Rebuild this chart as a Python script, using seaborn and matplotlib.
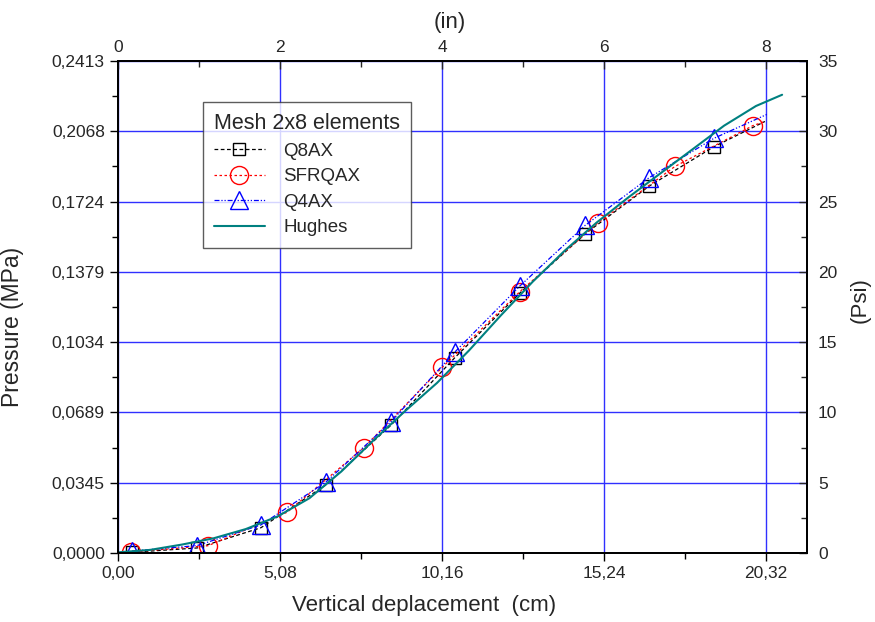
import numpy as np
import pandas as pd
import seaborn as sns
import matplotlib
matplotlib.use('Agg')
import matplotlib.pyplot as plt
from matplotlib.ticker import MultipleLocator

# values, x in cm, pressure in psi
q8_x = [0.44, 2.48, 4.48, 6.52, 8.56, 10.56, 12.60, 14.64, 16.65, 18.68, 20.28]
q8_y = [0.05, 0.36, 1.8, 4.85, 9.1, 13.9, 18.5, 22.7, 26.1, 28.9, 30.7]

sfr_x = [0.41, 2.82, 5.30, 7.71, 10.16, 12.60, 15.05, 17.46, 19.90, 20.28]
sfr_y = [0.07, 0.52, 2.9, 7.5, 13.2, 18.6, 23.5, 27.5, 30.4, 30.7]

q4_x = [0.44, 2.48, 4.48, 6.52, 8.56, 10.56, 12.60, 14.64, 16.65, 18.68, 20.34]
q4_y = [0.14, 0.53, 2.0, 5.05, 9.35, 14.3, 19.0, 23.3, 26.7, 29.5, 31.2]

hughes_x = [0, 1, 2, 3, 4, 5, 6, 7, 8, 9, 10, 11, 12, 13, 14, 15, 16, 17,
            18, 19, 20, 20.82]
hughes_y = [0.05, 0.22, 0.6, 1.05, 1.7, 2.6, 3.9, 5.8, 8.0, 10.1, 12.1, 14.4,
            16.9, 19.3, 21.5, 23.5, 25.3, 27.0, 28.7, 30.4, 31.8, 32.6]

cm_ticks = [0, 5.08, 10.16, 15.24, 20.32]
cm_labels = ['0,00', '5,08', '10,16', '15,24', '20,32']
psi_ticks = [0, 5, 10, 15, 20, 25, 30, 35]
mpa_labels = ['0,0000', '0,0345', '0,0689', '0,1034', '0,1379', '0,1724', '0,2068', '0,2413']
in_ticks = [0, 2, 4, 6, 8]

sns.set_style('ticks')
plt.rcParams['font.family'] = ['Liberation Sans', 'DejaVu Sans']

fig = plt.figure(figsize=(8.75, 6.22), dpi=100)
ax = fig.add_axes([0.1349, 0.1109, 0.7874, 0.7910])

ax.grid(True, color='#3030ff', linewidth=1.0)
ax.set_axisbelow(True)

sns.lineplot(x=q8_x, y=q8_y, ax=ax, sort=False, estimator=None, color='black',
             linestyle=(0, (3, 2)), linewidth=0.9, marker='s', markersize=9,
             markerfacecolor='none', markeredgecolor='black', markeredgewidth=1.0,
             markevery=slice(0, 10), label='Q8AX')
sns.lineplot(x=sfr_x, y=sfr_y, ax=ax, sort=False, estimator=None, color='red',
             linestyle=(0, (2, 2)), linewidth=0.9, marker='o', markersize=13,
             markerfacecolor='none', markeredgecolor='red', markeredgewidth=1.0,
             markevery=slice(0, 9), label='SFRQAX')
sns.lineplot(x=q4_x, y=q4_y, ax=ax, sort=False, estimator=None, color='blue',
             linestyle=(0, (4, 1.5, 1, 1.5, 1, 1.5)), linewidth=0.9, marker='^',
             markersize=13, markerfacecolor='none', markeredgecolor='blue',
             markeredgewidth=1.0, markevery=slice(0, 10), label='Q4AX')
sns.lineplot(x=hughes_x, y=hughes_y, ax=ax, sort=False, estimator=None,
             color='#008080', linewidth=1.5, label='Hughes')

ax.set_xlim(0, 21.6)
ax.set_ylim(0, 35)
ax.set_xticks(cm_ticks)
ax.set_xticklabels(cm_labels)
ax.set_yticks(psi_ticks)
ax.set_yticklabels(mpa_labels)
ax.xaxis.set_minor_locator(MultipleLocator(2.54))
ax.yaxis.set_minor_locator(MultipleLocator(2.5))
ax.tick_params(which='both', direction='out', labelsize=12.5, width=1, color='black')
ax.tick_params(which='major', length=6)
ax.tick_params(which='minor', length=4)
ax.set_xlabel('Vertical deplacement  (cm)', fontsize=16)
ax.set_ylabel('Pressure (MPa)', fontsize=16.5)
ax.xaxis.set_label_coords(0.444, -0.085)
ax.yaxis.set_label_coords(-0.136, 0.46)

axr = ax.twinx()
axr.set_ylim(0, 35)
axr.set_yticks(psi_ticks)
axr.yaxis.set_minor_locator(MultipleLocator(2.5))
axr.tick_params(which='both', direction='in', labelsize=12.5, width=1, pad=8)
axr.tick_params(which='major', length=6)
axr.tick_params(which='minor', length=4)
axr.set_ylabel('(Psi)', fontsize=16)
axr.yaxis.set_label_coords(1.062, 0.514)

axt = ax.twiny()
axt.set_xlim(0, 21.6 / 2.54)
axt.set_xticks(in_ticks)
axt.xaxis.set_minor_locator(MultipleLocator(1))
axt.tick_params(which='both', direction='in', labelsize=12.5, width=1, pad=4)
axt.tick_params(which='major', length=6)
axt.tick_params(which='minor', length=4)
axt.set_xlabel('(in)', fontsize=16)
axt.xaxis.set_label_coords(0.482, 1.067)

for a in (ax, axr, axt):
    for s in a.spines.values():
        s.set_color('black')
        s.set_linewidth(1.2)

leg = ax.legend(title='Mesh 2x8 elements', loc='upper left',
                bbox_to_anchor=(0.123, 0.917), borderaxespad=0,
                fontsize=13.5, title_fontsize=15.5,
                frameon=True, fancybox=False, edgecolor='#333333',
                handlelength=2.7, numpoints=1, borderpad=0.6, labelspacing=0.45,
                handletextpad=1.0)
leg._legend_box.align = 'left'
leg.get_frame().set_linewidth(1.0)

fig.savefig('out.png', dpi=100)
